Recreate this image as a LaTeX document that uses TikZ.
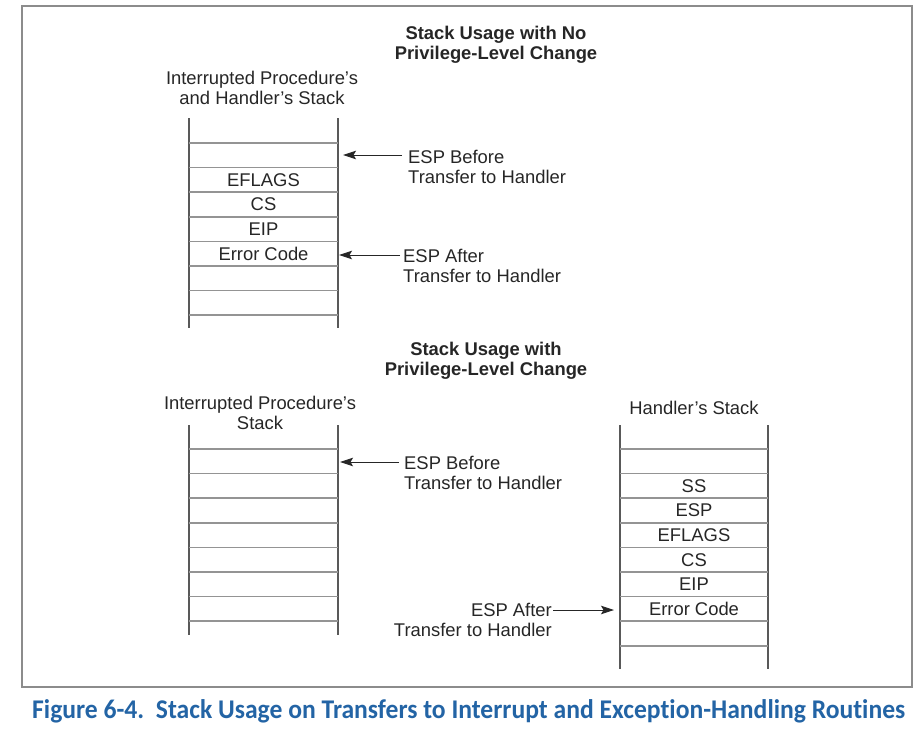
\documentclass[tikz,border=0pt]{standalone}
\usepackage{fontspec}
\setmainfont{Liberation Sans}
\newfontfamily\capfont[Ligatures=NoCommon]{Carlito}
\usepackage{graphicx}
\usetikzlibrary{arrows.meta}
\definecolor{capblue}{RGB}{35,100,165}
\definecolor{rulegray}{RGB}{140,140,140}

\begin{document}
\begin{tikzpicture}[x=1pt,y=-1pt]
\tikzset{lbl/.style={font=\fontsize{18.4}{20}\selectfont,text=black!85,inner sep=0pt,align=center},
         ttl/.style={lbl,font=\fontsize{18.4}{20.5}\selectfont\bfseries},
         cellline/.style={line width=1.5pt,color=black!42},
         sideline/.style={line width=1.4pt,color=black!65},
         esparrow/.style={line width=0.9pt,color=black!85,-{Stealth[length=13pt,width=8.5pt,inset=2.5pt]}}}
\def\rowh{24.6}
\def\xl{189}\def\xr{338}\def\hl{620}\def\hr{768}
\useasboundingbox (0,0) rectangle (918,736);
% Frame
\draw[line width=2pt,rulegray] (22,6) rectangle (912,687);
% Titles
\node[ttl] (titleA) at (496,45) {Stack Usage with No\\Privilege-Level Change};
\node[ttl] (titleB) at (486,361) {Stack Usage with\\Privilege-Level Change};
% Stack without privilege change
\node[lbl] (stackA) at (262,88) {Interrupted Procedure's\\and Handler's Stack};
\draw[sideline] (\xl,118) -- (\xl,328);
\draw[sideline] (\xr,118) -- (\xr,328);
\foreach \k in {0,...,7}
  \draw[cellline] (\xl,{143+\k*\rowh}) -- (\xr,{143+\k*\rowh});
\foreach \txt [count=\k from 1] in {EFLAGS,CS,EIP,Error Code}
  \node[lbl] (cellA\k) at (263.5,{143+(\k+0.5)*\rowh}) {\txt};
% ESP pointers
\coordinate (beforeA) at (343,155);
\coordinate (afterA) at (339,255);
\node[lbl,align=left,anchor=west] (espbeforeA) at (408,167) {ESP Before\\Transfer to Handler};
\node[lbl,align=left,anchor=west] (espafterA) at (403,266) {ESP After\\Transfer to Handler};
\draw[esparrow] ([xshift=-6pt]espbeforeA.west |- beforeA) -- (beforeA);
\draw[esparrow] ([xshift=-3pt]espafterA.west |- afterA) -- (afterA);
% Interrupted procedure's stack
\node[lbl] (stackB) at (260,413) {Interrupted Procedure's\\Stack};
\draw[sideline] (\xl,425) -- (\xl,635);
\draw[sideline] (\xr,425) -- (\xr,635);
\foreach \k in {0,...,7}
  \draw[cellline] (\xl,{449+\k*\rowh}) -- (\xr,{449+\k*\rowh});
% Handler's stack
\node[lbl] (stackC) at (694,408) {Handler's Stack};
\draw[sideline] (\hl,425) -- (\hl,669);
\draw[sideline] (\hr,425) -- (\hr,669);
\foreach \k in {0,...,8}
  \draw[cellline] (\hl,{449+\k*\rowh}) -- (\hr,{449+\k*\rowh});
\foreach \txt [count=\k from 1] in {SS,ESP,EFLAGS,CS,EIP,Error Code}
  \node[lbl] (cellC\k) at (694,{449+(\k+0.5)*\rowh}) {\txt};
% ESP pointers
\coordinate (beforeB) at (340,462);
\coordinate (afterB) at (614,610);
\node[lbl,align=left,anchor=west] (espbeforeB) at (404,473) {ESP Before\\Transfer to Handler};
\node[lbl,align=right,anchor=east] (espafterB) at (552,620) {ESP After\\Transfer to Handler};
\draw[esparrow] ([xshift=-5pt]espbeforeB.west |- beforeB) -- (beforeB);
\draw[esparrow] ([xshift=1pt]espafterB.east |- afterB) -- (afterB);
% Caption
\node[anchor=base west,inner sep=0pt,text=capblue,font=\capfont\bfseries\fontsize{27}{30}\selectfont] (caption) at (32,718)
  {\resizebox{873pt}{\height}{Figure 6-4.\ \ Stack Usage on Transfers to Interrupt and Exception-Handling Routines}};
\end{tikzpicture}
\end{document}
